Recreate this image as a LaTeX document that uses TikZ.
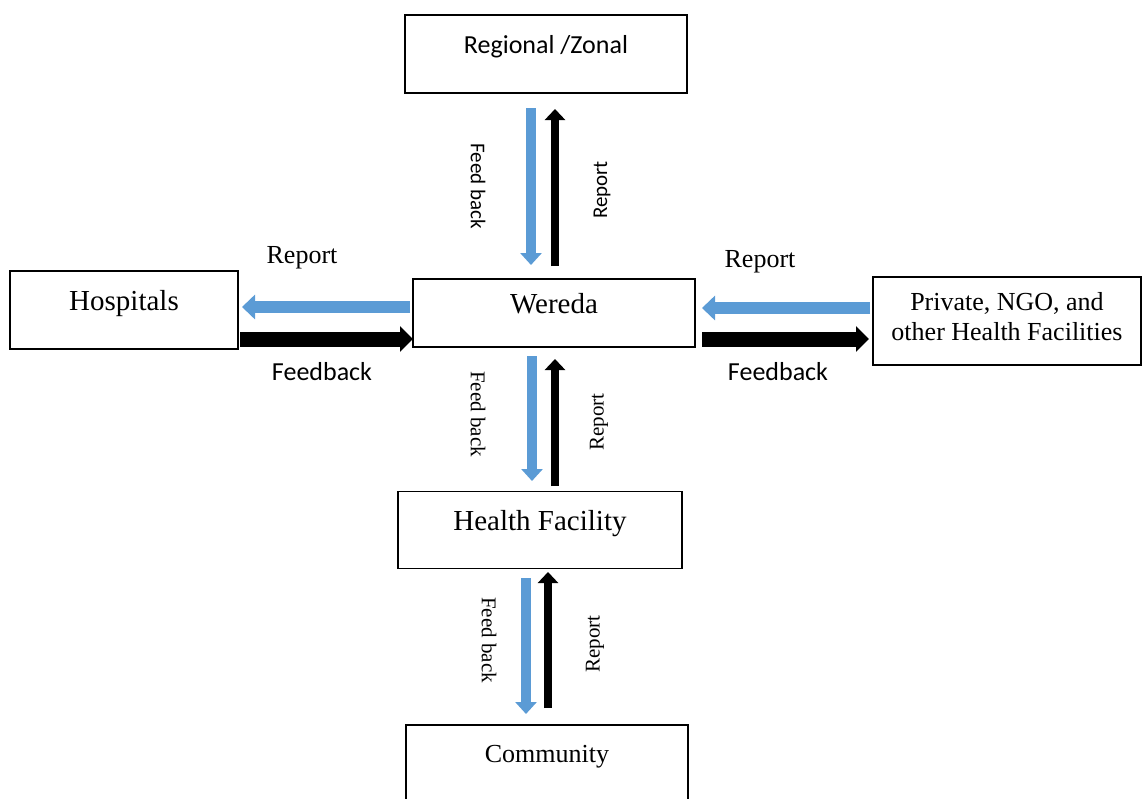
\documentclass[tikz,border=0pt]{standalone}
\usepackage{fontspec}
\setmainfont{Liberation Serif}
\newfontfamily\calib{Carlito}
\usetikzlibrary{arrows.meta}
\definecolor{arrblue}{RGB}{91,155,213}
\tikzset{
  box/.style={draw=black, line width=1.6pt, fill=white, inner sep=0pt, text height=0pt, text depth=0pt},
  bigserif/.style={font=\fontsize{29pt}{32pt}\selectfont},
  midserif/.style={font=\fontsize{26pt}{30pt}\selectfont},
  bigsans/.style={font=\calib\fontsize{26pt}{30pt}\selectfont},
  vsans/.style={font=\calib\fontsize{21pt}{24pt}\selectfont},
  vserif/.style={font=\fontsize{21pt}{24pt}\selectfont},
  bluev/.style={draw=arrblue, line width=10pt, -{Triangle[width=21pt,length=12pt]}},
  blackv/.style={draw=black, line width=8pt, -{Triangle[width=20pt,length=11pt]}},
  blueh/.style={draw=arrblue, line width=12pt, -{Triangle[width=24pt,length=13pt]}},
  blackh/.style={draw=black, line width=15pt, -{Triangle[width=25pt,length=13pt]}},
}
\begin{document}
\begin{tikzpicture}[x=1pt,y=-1pt]
\useasboundingbox (0,0) rectangle (1143,798);
% boxes
\node[box, bigsans, minimum width=282pt, minimum height=78pt] (reg) at (546,54) {\raisebox{1pt}{Regional /Zonal}};
\node[box, bigserif, minimum width=228pt, minimum height=78pt] (hosp) at (124,310) {Hospitals};
\node[box, bigserif, minimum width=282pt, minimum height=68pt] (wer) at (554,313) {Wereda};
\node[box, midserif, minimum width=268pt, minimum height=88pt] (priv) at (1007,321) {\raisebox{-4.5pt}[0pt][0pt]{\begin{tabular}{@{}c@{}}Private, NGO, and\\other Health Facilities\end{tabular}}};
\node[box, bigserif, minimum width=284pt, minimum height=77pt] (hf) at (540,530) {Health Facility};
\node[box, midserif, minimum width=282pt, minimum height=80pt] (com) at (547,765) {\raisebox{3pt}{Community}};
% coordinates for arrows
\coordinate (a1s) at (531,108); \coordinate (a1e) at (531,265);
\coordinate (b1s) at (555,266); \coordinate (b1e) at (555,109);
\coordinate (a2s) at (532,356); \coordinate (a2e) at (532,481);
\coordinate (b2s) at (555,486); \coordinate (b2e) at (555,359);
\coordinate (a3s) at (526,578); \coordinate (a3e) at (526,714);
\coordinate (b3s) at (548,708); \coordinate (b3e) at (548,572);
\coordinate (hls) at (410,307); \coordinate (hle) at (242,307);
\coordinate (hrs) at (240,339); \coordinate (hre) at (413,339);
\coordinate (pls) at (870,308); \coordinate (ple) at (702,308);
\coordinate (prs) at (702,339); \coordinate (pre) at (869,339);
% arrows
\draw[bluev] (a1s) -- (a1e);
\draw[blackv] (b1s) -- (b1e);
\draw[bluev] (a2s) -- (a2e);
\draw[blackv] (b2s) -- (b2e);
\draw[bluev] (a3s) -- (a3e);
\draw[blackv] (b3s) -- (b3e);
\draw[blueh] (hls) -- (hle);
\draw[blackh] (hrs) -- (hre);
\draw[blueh] (pls) -- (ple);
\draw[blackh] (prs) -- (pre);
% labels
\node[midserif] (lr1) at (302,258) {Report};
\node[bigsans] (lf1) at (322,372) {Feedback};
\node[midserif] (lr2) at (760,262) {Report};
\node[bigsans] (lf2) at (778,372) {Feedback};
\node[vsans, rotate=-90] (vf1) at (478,186) {Feed back};
\node[vsans, rotate=90] (vr1) at (602,190) {Report};
\node[vserif, rotate=-90] (vf2) at (478,414) {Feed back};
\node[vserif, rotate=90] (vr2) at (599,422) {Report};
\node[vserif, rotate=-90] (vf3) at (489,640) {Feed back};
\node[vserif, rotate=90] (vr3) at (595,644) {Report};
\end{tikzpicture}
\end{document}
